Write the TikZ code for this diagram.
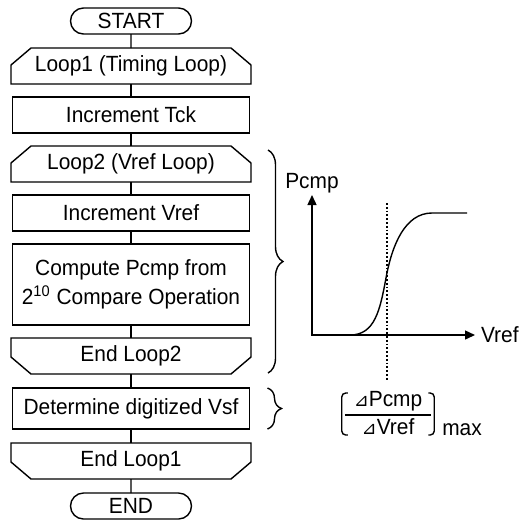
\documentclass[tikz,border=0pt]{standalone}
\usepackage{fontspec}
\setmainfont{Liberation Sans}[FakeStretch=0.95]
\newfontfamily\trifont{DejaVu Sans}
\usetikzlibrary{positioning,shapes.misc,arrows.meta,decorations.pathreplacing}

\begin{document}
\begin{tikzpicture}[
        x=0.5pt, y=-0.5pt,
        line width=0.7pt,
        font=\fontsize{11}{13.2}\selectfont,
        node distance=6.5pt,
        every node/.style={outer sep=0pt},
        term/.style={rounded rectangle, draw, minimum width=60.5pt, minimum height=13pt, inner sep=0pt},
        box/.style={rectangle, draw, minimum width=118.5pt, minimum height=18pt, align=center, inner sep=0pt},
        loopbox/.style={rectangle, minimum width=120pt, minimum height=18pt, inner sep=0pt},
        curly/.style={decorate, decoration={brace, amplitude=#1}},
        curly/.default=7.5pt,
        axis/.style={{Triangle[length=5pt,width=4.5pt]}-{Triangle[length=5pt,width=4.5pt]}},
        guide/.style={densely dotted, line width=0.9pt}
    ]
        \useasboundingbox (0,0) rectangle (524,521);

        % Flowchart
        \node[term] (start) at (131,21) {START};
        \node[loopbox, below=7pt of start] (loop1) {Loop1 (Timing Loop)};
        \node[box, below=of loop1] (tck) {Increment Tck};
        \node[loopbox, below=of tck] (loop2) {Loop2 (Vref Loop)};
        \node[box, below=of loop2] (vref) {Increment Vref};
        \node[box, minimum height=40.5pt, below=of vref] (comp) {Compute Pcmp from\\[1pt]2\textsuperscript{10} Compare Operation};
        \node[loopbox, below=of comp] (end2) {End Loop2};
        \node[box, minimum height=20.5pt, below=7pt of end2] (det) {Determine digitized Vsf};
        \node[loopbox, below=7pt of det] (end1) {End Loop1};
        \node[term, below=7pt of end1] (stop) {END};

        % Loop limit outlines
        \draw (loop1.south west) -- ([yshift=-8.5pt]loop1.north west) -- ([xshift=10pt]loop1.north west) -- ([xshift=-10pt]loop1.north east) -- ([yshift=-8.5pt]loop1.north east) -- (loop1.south east) -- cycle;
        \draw (loop2.south west) -- ([yshift=-8.5pt]loop2.north west) -- ([xshift=10pt]loop2.north west) -- ([xshift=-10pt]loop2.north east) -- ([yshift=-8.5pt]loop2.north east) -- (loop2.south east) -- cycle;
        \draw (end2.north west) -- ([yshift=8.5pt]end2.south west) -- ([xshift=10pt]end2.south west) -- ([xshift=-10pt]end2.south east) -- ([yshift=8.5pt]end2.south east) -- (end2.north east) -- cycle;
        \draw (end1.north west) -- ([yshift=8.5pt]end1.south west) -- ([xshift=10pt]end1.south west) -- ([xshift=-10pt]end1.south east) -- ([yshift=8.5pt]end1.south east) -- (end1.north east) -- cycle;

        % Connectors
        \draw (start) -- (loop1);
        \draw (loop1) -- (tck);
        \draw (tck) -- (loop2);
        \draw (loop2) -- (vref);
        \draw (vref) -- (comp);
        \draw (comp) -- (end2);
        \draw (end2) -- (det);
        \draw (det) -- (end1);
        \draw (end1) -- (stop);

        % Braces
        \draw[curly] ([xshift=8.5pt,yshift=-2pt]loop2.north east) -- ([xshift=8.5pt,yshift=0.5pt]end2.south east);
        \draw[curly=7pt] ([xshift=9pt]det.north east) -- ([xshift=9pt]det.south east);

        % Pcmp curve
        \coordinate (O) at (312,335);
        \coordinate (ytip) at (312,195);
        \coordinate (xtip) at (475,335);
        \draw[axis] (ytip) -- (O) -- (xtip);
        \node[above=1pt of ytip, inner sep=0pt] (ylab) {Pcmp};
        \node[right=3pt of xtip, inner sep=0pt] (xlab) {Vref};
        \draw (O) -- (350,335) .. controls (375,335) and (380,310) .. (386,278) .. controls (392,245) and (405,213) .. (432,213) -- (467,213);
        \draw[guide] (387,203) -- (387,380);

        % Maximum slope
        \node[inner xsep=1.5pt, inner ysep=0pt] (frac) at (388,415) {\tabcolsep=4.5pt\arrayrulewidth=0.6pt\begin{tabular}{c}{\trifont\fontsize{9}{9}\selectfont ⊿}Pcmp\\\hline{\trifont\fontsize{9}{9}\selectfont ⊿}Vref\end{tabular}};
        \draw[rounded corners=2pt] ([xshift=3pt,yshift=-2.5pt]frac.north west) -- ([yshift=-2.5pt]frac.north west) -- ([yshift=3.5pt]frac.south west) -- ([xshift=3pt,yshift=3.5pt]frac.south west);
        \draw[rounded corners=2pt] ([xshift=-3pt,yshift=-2.5pt]frac.north east) -- ([yshift=-2.5pt]frac.north east) -- ([yshift=3.5pt]frac.south east) -- ([xshift=-3pt,yshift=3.5pt]frac.south east);
        \node[anchor=south west, inner sep=0pt] (sub) at ([xshift=4pt,yshift=3pt]frac.south east) {max};

    \end{tikzpicture}
\end{document}
